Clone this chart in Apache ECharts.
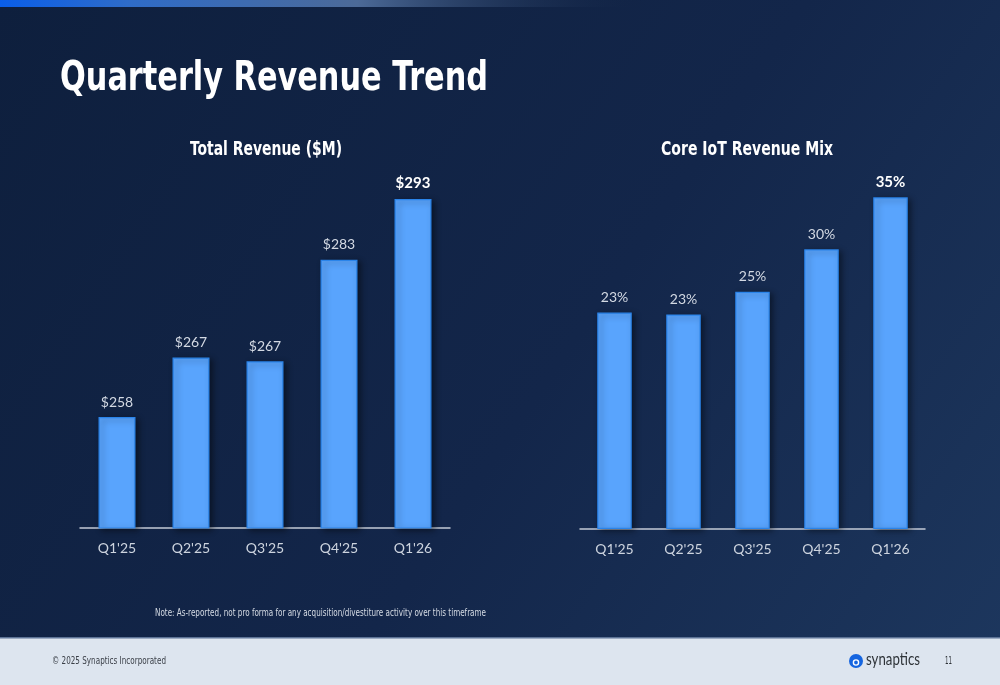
<!DOCTYPE html>
<html>
<head>
<meta charset="utf-8">
<script src="https://cdn.jsdelivr.net/npm/echarts@6/dist/echarts.min.js"></script>
<style>html,body{margin:0;padding:0;background:#0f2140;}#c{width:1000px;height:685px;}</style>
</head>
<body>
<div id="c"></div>
<script>
const categories = ["Q1'25", "Q2'25", "Q3'25", "Q4'25", "Q1'26"];
const totalRevenue = [257.7, 267.2, 266.6, 282.8, 292.5];
const coreIotMix = [22.9, 22.7, 25.1, 29.6, 35.1];
const pageTitle = 'Quarterly Revenue Trend';
const leftTitle = 'Total Revenue ($M)';
const rightTitle = 'Core IoT Revenue Mix';
const noteText = 'Note: As-reported, not pro forma for any acquisition/divestiture activity over this timeframe';
const footerText = '\u00A9 2025 Synaptics Incorporated';
const logoText = 'synaptics';
const pageNumber = '11';

const COND = 'DejaVu Sans Condensed';
const measureCtx = document.createElement('canvas').getContext('2d');
function fitScale(text, weight, size, family, target) {
  measureCtx.font = weight + ' ' + size + 'px "' + family + '"';
  const w = measureCtx.measureText(text).width;
  return w > 0 ? target / w : 1;
}
function fitText(text, opts) {
  const sx = fitScale(text, opts.weight || 'normal', opts.size, opts.family, opts.width);
  return {
    type: 'text', x: opts.x, y: opts.y, scaleX: sx, silent: true,
    style: {
      text: text, fill: opts.color, fontSize: opts.size, fontFamily: opts.family,
      fontWeight: opts.weight || 'normal', textAlign: opts.align || 'left', textVerticalAlign: 'middle'
    }
  };
}

const chart = echarts.init(document.getElementById('c'), null, {renderer: 'canvas'});

const barStyle = {
  color: '#59a4fd',
  borderColor: '#2a84ea',
  borderWidth: 1.2,
  shadowColor: 'rgba(0,0,0,0.45)',
  shadowBlur: 6,
  shadowOffsetX: 3,
  shadowOffsetY: 2
};
const lastIdx = categories.length - 1;
function makeData(arr) {
  return arr.map((v, i) => i === lastIdx
    ? {value: v, label: {fontWeight: 'bold', color: '#ffffff', fontSize: 15, fontFamily: 'Lato'}}
    : v);
}
const labelBase = {
  show: true, position: 'top', distance: 8,
  color: '#d3d9e3', fontSize: 14, fontFamily: 'Lato'
};
const xAxisBase = {
  type: 'category', data: categories,
  axisLine: {show: true, lineStyle: {color: '#c3cad6', width: 1.5}},
  axisTick: {show: false},
  axisLabel: {color: '#cdd4df', fontSize: 14, fontFamily: 'Lato', margin: 13}
};

chart.setOption({
  animation: false,
  backgroundColor: {
    type: 'linear', x: 0, y: 0, x2: 1, y2: 1,
    colorStops: [{offset: 0, color: '#0e1f3d'}, {offset: 0.55, color: '#13264a'}, {offset: 1, color: '#1d375e'}]
  },
  grid: [
    {left: 80, width: 370, top: 152, height: 376},
    {left: 580, width: 345, top: 151, height: 378}
  ],
  xAxis: [
    Object.assign({gridIndex: 0}, xAxisBase),
    Object.assign({gridIndex: 1}, xAxisBase)
  ],
  yAxis: [
    {type: 'value', gridIndex: 0, min: 240, max: 300, show: false, splitLine: {show: false}},
    {type: 'value', gridIndex: 1, min: 0, max: 40, show: false, splitLine: {show: false}}
  ],
  series: [
    {
      type: 'bar', xAxisIndex: 0, yAxisIndex: 0, barWidth: '50%',
      data: makeData(totalRevenue), itemStyle: barStyle,
      label: Object.assign({formatter: p => '$' + Math.round(p.value)}, labelBase)
    },
    {
      type: 'bar', xAxisIndex: 1, yAxisIndex: 1, barWidth: '50%',
      data: makeData(coreIotMix), itemStyle: barStyle,
      label: Object.assign({formatter: p => Math.round(p.value) + '%'}, labelBase)
    }
  ],
  graphic: [
    {type: 'rect', left: 0, top: 0, shape: {width: 650, height: 7}, silent: true,
     style: {fill: {type: 'linear', x: 0, y: 0, x2: 1, y2: 0,
       colorStops: [{offset: 0, color: '#0a5ee9'}, {offset: 0.2, color: '#2f6cc8'}, {offset: 0.55, color: '#4c6a98'}, {offset: 1, color: 'rgba(16,33,64,0)'}]}}},
    fitText(pageTitle, {x: 60, y: 80, size: 40, weight: 'bold', family: COND, width: 428, color: '#ffffff'}),
    fitText(leftTitle, {x: 266, y: 150, size: 19.5, weight: 'bold', family: COND, width: 152, color: '#ffffff', align: 'center'}),
    fitText(rightTitle, {x: 747, y: 150, size: 19.5, weight: 'bold', family: COND, width: 172, color: '#ffffff', align: 'center'}),
    fitText(noteText, {x: 155, y: 613, size: 10.5, family: COND, width: 331, color: '#d5dbe4'}),
    {type: 'rect', left: 0, top: 638, shape: {width: 1000, height: 47}, silent: true, style: {fill: '#dde5ef'}},
    {type: 'rect', left: 0, top: 637, shape: {width: 1000, height: 1.5}, silent: true, style: {fill: '#5d7396'}},
    fitText(footerText, {x: 52, y: 661, size: 10.5, family: COND, width: 114, color: '#3a3f47'}),
    {type: 'circle', shape: {cx: 856, cy: 661, r: 7}, silent: true, style: {fill: '#1565e0'}},
    {type: 'circle', shape: {cx: 856, cy: 662.5, r: 2.6}, silent: true, style: {fill: 'none', stroke: '#ffffff', lineWidth: 1.4}},
    fitText(logoText, {x: 866, y: 660, size: 17, family: 'Lato', width: 54, color: '#2e3338'}),
    fitText(pageNumber, {x: 945, y: 661, size: 11, family: COND, width: 7, color: '#2e3338'})
  ]
});
</script>
</body>
</html>
